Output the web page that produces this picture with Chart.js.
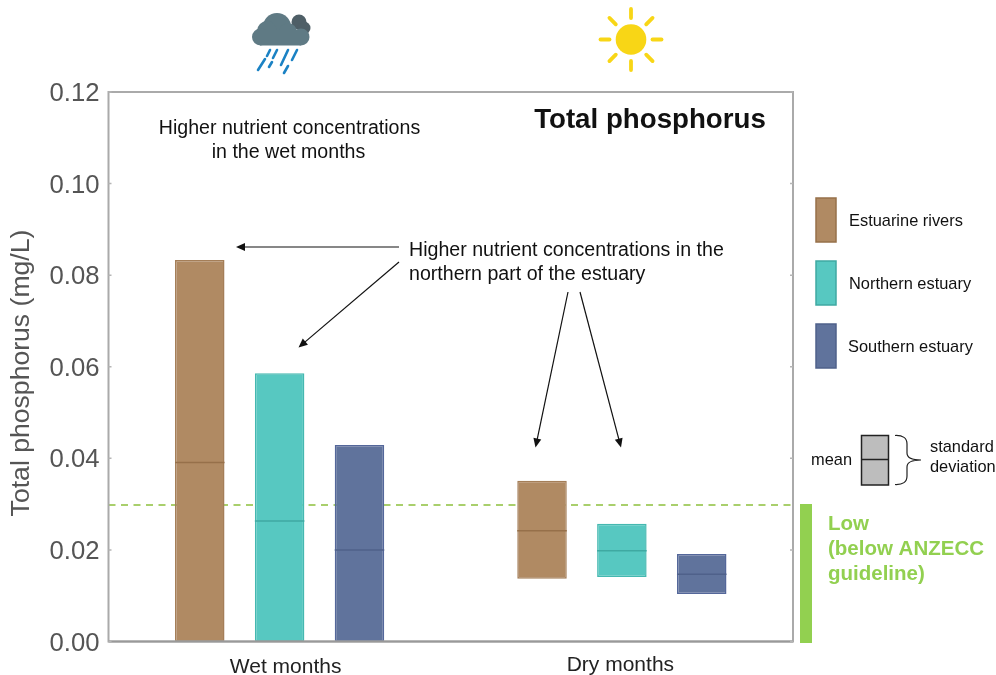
<!DOCTYPE html>
<html>
<head>
<meta charset="utf-8">
<title>Total phosphorus</title>
<script src="https://cdn.jsdelivr.net/npm/chart.js@4/dist/chart.umd.min.js"></script>
<style>
    html, body { margin: 0; padding: 0; background: #fff; }
    canvas { display: block; }
</style>
</head>
<body>
<canvas id="tpChart" width="996" height="675"></canvas>
<script>
const categories = ['Wet months', 'Dry months'];
const seriesNames = ['Estuarine rivers', 'Northern estuary', 'Southern estuary'];

// mean +/- standard deviation (mg/L)
const riversLow = [0, 0.0137];
const riversHigh = [0.0833, 0.0351];
const riversMean = [0.0391, 0.0242];

const northernLow = [0, 0.0141];
const northernHigh = [0.0586, 0.0257];
const northernMean = [0.0263, 0.0198];

const southernLow = [0, 0.0104];
const southernHigh = [0.0429, 0.0191];
const southernMean = [0.0200, 0.0147];

const yTicks = [0, 0.02, 0.04, 0.06, 0.08, 0.10, 0.12];
const guideline = 0.0298;

const allMeans = [riversMean, northernMean, southernMean];
const fills = ['#b08a63', '#57c8c1', '#60739c'];
const edges = ['#a47e58', '#45b8b0', '#54679a'];
const meanColors = ['#96704a', '#3fa9a2', '#4f618a'];

const FONT = '"Liberation Sans", Arial, sans-serif';

function makeBars(low, high) {
    return categories.map((c, i) => [low[i], high[i]]);
}

function text(ctx, str, x, y, size, opts) {
    opts = opts || {};
    ctx.save();
    ctx.font = (opts.bold ? 'bold ' : '') + size + 'px ' + FONT;
    ctx.fillStyle = opts.color || '#111';
    ctx.textAlign = opts.align || 'left';
    ctx.textBaseline = 'middle';
    ctx.fillText(str, x, y);
    ctx.restore();
}

function arrow(ctx, x1, y1, x2, y2) {
    const a = Math.atan2(y2 - y1, x2 - x1);
    ctx.save();
    ctx.strokeStyle = '#111';
    ctx.fillStyle = '#111';
    ctx.lineWidth = 1.2;
    ctx.beginPath();
    ctx.moveTo(x1, y1);
    ctx.lineTo(x2 - 6 * Math.cos(a), y2 - 6 * Math.sin(a));
    ctx.stroke();
    ctx.translate(x2, y2);
    ctx.rotate(a);
    ctx.beginPath();
    ctx.moveTo(0, 0);
    ctx.lineTo(-9, -4);
    ctx.lineTo(-9, 4);
    ctx.closePath();
    ctx.fill();
    ctx.restore();
}

function drawCloud(ctx) {
    ctx.save();
    ctx.fillStyle = '#4f5f67';
    [[299, 22, 7.5], [304, 28, 6.5]].forEach(p => {
        ctx.beginPath();
        ctx.arc(p[0], p[1], p[2], 0, Math.PI * 2);
        ctx.fill();
    });
    ctx.fillStyle = '#5f7a84';
    [[277, 27, 14], [267, 31, 10], [288, 32, 9], [260.5, 37, 8.5], [301, 37, 8.5]].forEach(p => {
        ctx.beginPath();
        ctx.arc(p[0], p[1], p[2], 0, Math.PI * 2);
        ctx.fill();
    });
    ctx.fillRect(260, 30, 41, 15.5);
    ctx.strokeStyle = '#1b82c4';
    ctx.lineCap = 'round';
    ctx.lineWidth = 2.6;
    [[288, 50, 281, 65], [297, 50, 292, 60], [277, 50, 273, 58], [270, 50, 267, 56],
     [265, 59, 258, 70], [272, 62, 269, 67], [288, 66, 284, 73]].forEach(s => {
        ctx.beginPath();
        ctx.moveTo(s[0], s[1]);
        ctx.lineTo(s[2], s[3]);
        ctx.stroke();
    });
    ctx.restore();
}

function drawSun(ctx) {
    const cx = 631, cy = 39.5;
    ctx.save();
    ctx.fillStyle = '#f8d616';
    ctx.beginPath();
    ctx.arc(cx, cy, 15.3, 0, Math.PI * 2);
    ctx.fill();
    ctx.strokeStyle = '#f8d616';
    ctx.lineWidth = 3.8;
    ctx.lineCap = 'round';
    for (let i = 0; i < 8; i++) {
        const a = i * Math.PI / 4;
        ctx.beginPath();
        ctx.moveTo(cx + 21.5 * Math.cos(a), cy + 21.5 * Math.sin(a));
        ctx.lineTo(cx + 30.5 * Math.cos(a), cy + 30.5 * Math.sin(a));
        ctx.stroke();
    }
    ctx.restore();
}

const labelNudge = [[6, 1], [-1.5, -1]];

// category labels are not centred under their groups in the original,
// y labels sit a little under their ticks
const nudgeLabels = {
    id: 'nudgeLabels',
    afterLayout(chart) {
        chart.scales.x.getLabelItems(chart.chartArea).forEach((item, i) => {
            item.options.translation[0] += labelNudge[i][0];
            item.options.translation[1] += labelNudge[i][1];
        });
        chart.scales.y.getLabelItems(chart.chartArea).forEach(item => {
            item.options.translation[1] += 2;
        });
    }
};

const guideLine = {
    id: 'guideLine',
    beforeDatasetsDraw(chart) {
        const ctx = chart.ctx, area = chart.chartArea;
        const y = chart.scales.y.getPixelForValue(guideline);
        ctx.save();
        ctx.strokeStyle = '#a9cf6c';
        ctx.lineWidth = 2;
        ctx.setLineDash([7, 5.5]);
        ctx.beginPath();
        ctx.moveTo(area.left, y);
        ctx.lineTo(area.right, y);
        ctx.stroke();
        ctx.restore();
    }
};

const meanLines = {
    id: 'meanLines',
    afterDatasetsDraw(chart) {
        const ctx = chart.ctx, yScale = chart.scales.y;
        ctx.save();
        ctx.lineWidth = 1.5;
        allMeans.forEach((means, d) => {
            ctx.strokeStyle = meanColors[d];
            chart.getDatasetMeta(d).data.forEach((bar, i) => {
                const y = yScale.getPixelForValue(means[i]);
                ctx.beginPath();
                ctx.moveTo(bar.x - bar.width / 2, y);
                ctx.lineTo(bar.x + bar.width / 2, y);
                ctx.stroke();
            });
        });
        ctx.restore();
    }
};

const frame = {
    id: 'frame',
    afterDatasetsDraw(chart) {
        const ctx = chart.ctx, a = chart.chartArea, yScale = chart.scales.y;
        ctx.save();
        ctx.strokeStyle = '#aaaaaa';
        ctx.lineWidth = 2;
        ctx.strokeRect(a.left, a.top, a.right - a.left, a.bottom - a.top);
        ctx.strokeStyle = '#999999';
        ctx.beginPath();
        ctx.moveTo(a.left, a.bottom);
        ctx.lineTo(a.right, a.bottom);
        ctx.stroke();
        // small inward tick marks
        ctx.lineWidth = 1.5;
        ctx.strokeStyle = '#b5b5b5';
        yTicks.forEach(v => {
            const y = yScale.getPixelForValue(v);
            ctx.beginPath();
            ctx.moveTo(a.left, y);
            ctx.lineTo(a.left + 3, y);
            ctx.moveTo(a.right - 3, y);
            ctx.lineTo(a.right, y);
            ctx.stroke();
        });
        ctx.restore();
    }
};

const notes = {
    id: 'notes',
    afterDraw(chart) {
        const ctx = chart.ctx;

        drawCloud(ctx);
        drawSun(ctx);

        // y axis title
        ctx.save();
        ctx.translate(21.5, 373);
        ctx.rotate(-Math.PI / 2);
        text(ctx, 'Total phosphorus (mg/L)', 0, 0, 26.6, { color: '#555', align: 'center' });
        ctx.restore();

        text(ctx, 'Total phosphorus', 650, 120, 27.7, { bold: true, align: 'center' });
        text(ctx, 'Higher nutrient concentrations', 289.5, 128.5, 19.6, { align: 'center' });
        text(ctx, 'in the wet months', 288.5, 152.5, 19.6, { align: 'center' });
        text(ctx, 'Higher nutrient concentrations in the', 409, 250.5, 19.6);
        text(ctx, 'northern part of the estuary', 409, 274.5, 19.6);

        arrow(ctx, 399, 247, 236, 247);
        arrow(ctx, 399, 262, 298.5, 347.5);
        arrow(ctx, 568, 292, 535.5, 447.5);
        arrow(ctx, 580, 292, 621, 447.5);

        // legend
        const legendTops = [198, 261, 324];
        const legendY = [221, 284, 347];
        seriesNames.forEach((name, i) => {
            ctx.fillStyle = fills[i];
            ctx.fillRect(816, legendTops[i], 20, 44);
            ctx.strokeStyle = meanColors[i];
            ctx.lineWidth = 1.5;
            ctx.strokeRect(816, legendTops[i], 20, 44);
            text(ctx, name, i == 2 ? 848 : 849, legendY[i], 16.4);
        });

        // mean / sd key
        text(ctx, 'mean', 811, 460, 16.4);
        ctx.fillStyle = '#bdbdbd';
        ctx.fillRect(861.5, 435.5, 27, 49.5);
        ctx.strokeStyle = '#222';
        ctx.lineWidth = 1.5;
        ctx.strokeRect(861.5, 435.5, 27, 49.5);
        ctx.beginPath();
        ctx.moveTo(861.5, 459.5);
        ctx.lineTo(888.5, 459.5);
        ctx.stroke();
        ctx.lineWidth = 1.2;
        ctx.beginPath();
        ctx.moveTo(895, 435.5);
        ctx.quadraticCurveTo(907, 435, 907, 444);
        ctx.lineTo(907, 453);
        ctx.quadraticCurveTo(907, 460, 921, 460);
        ctx.quadraticCurveTo(907, 460, 907, 467);
        ctx.lineTo(907, 476);
        ctx.quadraticCurveTo(907, 485, 895, 484.5);
        ctx.stroke();
        text(ctx, 'standard', 930, 447.5, 16.4);
        text(ctx, 'deviation', 930, 467.5, 16.4);

        // guideline band
        ctx.fillStyle = '#92d050';
        ctx.fillRect(800, 504, 12, 139);
        text(ctx, 'Low', 828, 524, 20.5, { bold: true, color: '#92d050' });
        text(ctx, '(below ANZECC', 828, 549, 20.5, { bold: true, color: '#92d050' });
        text(ctx, 'guideline)', 828, 574, 20.5, { bold: true, color: '#92d050' });
    }
};

new Chart(document.getElementById('tpChart'), {
    type: 'bar',
    data: {
        labels: categories,
        datasets: [
            {
                label: seriesNames[0],
                data: makeBars(riversLow, riversHigh),
                backgroundColor: fills[0],
                borderColor: edges[0]
            },
            {
                label: seriesNames[1],
                data: makeBars(northernLow, northernHigh),
                backgroundColor: fills[1],
                borderColor: edges[1]
            },
            {
                label: seriesNames[2],
                data: makeBars(southernLow, southernHigh),
                backgroundColor: fills[2],
                borderColor: edges[2]
            }
        ]
    },
    options: {
        responsive: false,
        animation: false,
        layout: {
            padding: { top: 92, right: 203, bottom: 0, left: 0 }
        },
        datasets: {
            bar: {
                categoryPercentage: 0.70,
                barPercentage: 0.62,
                borderWidth: 1.5,
                borderSkipped: false
            }
        },
        plugins: {
            legend: { display: false },
            tooltip: { enabled: false }
        },
        scales: {
            x: {
                afterFit(scale) { scale.height = 33.5; },
                grid: { display: false, drawTicks: false },
                border: { display: false },
                ticks: {
                    color: '#222',
                    padding: 12.5,
                    maxRotation: 0,
                    font: { family: FONT, size: 21 }
                }
            },
            y: {
                min: 0,
                max: 0.12,
                afterFit(scale) { scale.width = 108.5; },
                afterBuildTicks(scale) { scale.ticks = yTicks.map(v => ({ value: v })); },
                grid: { display: false, drawTicks: false },
                border: { display: false },
                ticks: {
                    color: '#555',
                    padding: 9,
                    font: { family: FONT, size: 25.7 },
                    callback: v => v.toFixed(2)
                }
            }
        }
    },
    plugins: [nudgeLabels, guideLine, meanLines, frame, notes]
});
</script>
</body>
</html>
